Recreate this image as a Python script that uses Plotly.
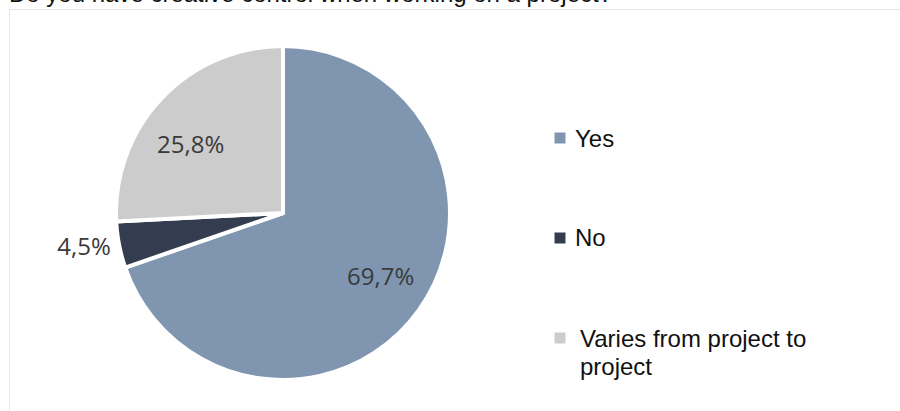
import plotly.graph_objects as go

# Survey answers and shares (percent)
categories = ["Yes", "No", "Varies from project to project"]
legend_labels = ["Yes", "No", "Varies from project to<br>project"]
shares = [69.7, 4.5, 25.8]
colors = ["#8096b0", "#333d4f", "#cccccc"]
title_text = "Do you have creative control when working on a project?"

W, H = 900, 411

# Layout positions in pixels (from the top-left corner)
pie_box = dict(left=116, right=450, top=46, bottom=380)
inside_label_xy = {0: (380, 275), 2: (190, 143)}   # slice index -> label centre
legend_rows = [(560, 573, 138), (560, 573, 238), (560, 578, 338)]  # (square x, text x, first line y)
legend_square = 11
legend_line_gap = 28

label_font = dict(family="Open Sans", size=24, color="#3a3a3a", weight=500)
legend_font = dict(family="Liberation Sans, Arial", size=24, color="#111111")


def fx(px):
    return px / W


def fy(py):
    return 1 - py / H


def fmt(v):
    return f"{v:.1f}".replace(".", ",") + "%"


# Only the thin slice gets its label from the pie itself (outside the pie);
# the wide slices carry their labels as annotations placed inside them.
templates = ["%{value:.1f}%" if i not in inside_label_xy else "" for i in range(len(shares))]
positions = ["outside" if i not in inside_label_xy else "none" for i in range(len(shares))]

fig = go.Figure()

fig.add_trace(go.Pie(
    labels=categories,
    values=shares,
    sort=False,
    direction="clockwise",
    rotation=0,
    marker=dict(colors=colors, line=dict(color="white", width=4)),
    texttemplate=templates,
    textposition=positions,
    textfont=label_font,
    hoverinfo="label+percent",
    showlegend=False,
    domain=dict(x=[fx(pie_box["left"]), fx(pie_box["right"])],
                y=[fy(pie_box["bottom"]), fy(pie_box["top"])]),
))

annotations = [dict(
    text=title_text, xref="paper", yref="paper",
    x=fx(7), y=fy(9), xanchor="left", yanchor="bottom",
    showarrow=False,
    font=dict(family="Liberation Sans, Arial", size=24, color="#111111"),
)]

for i, (px, py) in inside_label_xy.items():
    annotations.append(dict(
        text=fmt(shares[i]), xref="paper", yref="paper",
        x=fx(px), y=fy(py), xanchor="center", yanchor="middle",
        showarrow=False, font=label_font,
    ))

shapes = [dict(
    type="rect", xref="paper", yref="paper",
    x0=fx(9.5), x1=1.2, y0=-0.2, y1=fy(9.5),
    line=dict(color="#e6e6e6", width=1), fillcolor="rgba(0,0,0,0)",
    layer="below",
)]

# Legend: coloured squares with the answer text beside them
half = legend_square / 2
for (sx, tx, ty), name, color in zip(legend_rows, legend_labels, colors):
    shapes.append(dict(
        type="rect", xref="paper", yref="paper",
        x0=fx(sx - half), x1=fx(sx + half), y0=fy(ty + half), y1=fy(ty - half),
        line=dict(width=0), fillcolor=color,
    ))
    for k, line in enumerate(name.split("<br>")):
        annotations.append(dict(
            text=line, xref="paper", yref="paper",
            x=fx(tx), y=fy(ty + k * legend_line_gap), xanchor="left", yanchor="middle",
            align="left", showarrow=False, font=legend_font,
        ))

fig.update_layout(
    width=W, height=H,
    margin=dict(l=0, r=0, t=0, b=0),
    paper_bgcolor="white",
    separators=",.",
    showlegend=False,
    shapes=shapes,
    annotations=annotations,
)

fig.write_html("out.html")
